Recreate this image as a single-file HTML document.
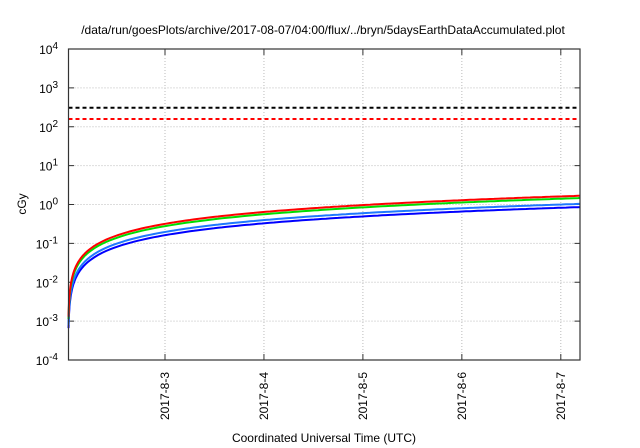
<!DOCTYPE html>
<html><head><meta charset="utf-8"><style>
body{margin:0;background:#fff;}
svg{display:block;font-family:"Liberation Sans",sans-serif;}
</style></head><body>
<svg id="s" width="640" height="448" xmlns="http://www.w3.org/2000/svg">
<rect width="640" height="448" fill="#fff"/>
<text x="323" y="34" font-size="12" text-anchor="middle" fill="#000">/data/run/goesPlots/archive/2017-08-07/04:00/flux/../bryn/5daysEarthDataAccumulated.plot</text>
<g id="grid" stroke="#bbb" stroke-width="1" stroke-dasharray="1,2"></g>
<g id="lab" font-size="12" fill="#000"></g>
<text transform="translate(26,204) rotate(-90)" font-size="12" text-anchor="middle">cGy</text>
<text x="324" y="442" font-size="12" text-anchor="middle">Coordinated Universal Time (UTC)</text>
<line x1="68.5" x2="580" y1="107.7" y2="107.7" stroke="#000" stroke-width="2" stroke-dasharray="4,3"/>
<line x1="68.5" x2="580" y1="119" y2="119" stroke="#f00" stroke-width="2" stroke-dasharray="4,3"/>
<g id="curves" fill="none" stroke-width="2"></g>
<rect x="68.5" y="49" width="511.5" height="311" fill="none" stroke="#333" stroke-width="1.2"/>
</svg>
<script>
(function(){
var ns="http://www.w3.org/2000/svg";
function el(p,n,a,t){var e=document.createElementNS(ns,n);for(var k in a)e.setAttribute(k,a[k]);if(t)e.textContent=t;document.getElementById(p).appendChild(e);return e;}
var ptop=49,dec=38.875;
for(var i=0;i<=8;i++){var y=ptop+i*dec,p=4-i;
 if(i>0&&i<8)el('grid','line',{x1:68.5,x2:580,y1:y,y2:y});
 el('grid','line',{x1:68.5,x2:74,y1:y,y2:y,stroke:'#333','stroke-dasharray':'none'});
 el('grid','line',{x1:574.5,x2:580,y1:y,y2:y,stroke:'#333','stroke-dasharray':'none'});
 var t=el('lab','text',{x:58,y:y+5,'text-anchor':'end'});
 t.textContent="10";var s=document.createElementNS(ns,'tspan');s.setAttribute('dy','-5');s.setAttribute('font-size','10');s.textContent=p;t.appendChild(s);
}
var days=['2017-8-3','2017-8-4','2017-8-5','2017-8-6','2017-8-7'];
for(var d=0;d<5;d++){var x=165+d*98.95;
 el('grid','line',{x1:x,x2:x,y1:49,y2:360});
 el('grid','line',{x1:x,x2:x,y1:354,y2:360,stroke:'#333','stroke-dasharray':'none'});
 el('grid','line',{x1:x,x2:x,y1:49,y2:55,stroke:'#333','stroke-dasharray':'none'});
 el('lab','text',{transform:'translate('+(x+4)+',372) rotate(-90)','text-anchor':'end'},days[d]);
}
var series=[['#0000ff',0.161],['#1e78ff',0.195],['#00dd00',0.275],['#ff0000',0.315]];
series.forEach(function(sr){
 var dpts=[];
 for(var x=68.5;x<=580;x+=(x<90?0.5:4)){var t=(x-68.5)/98.95+0.004;var v=sr[1]*t;
  var y=204-dec*Math.log10(v);if(y>360)y=360;dpts.push(x.toFixed(1)+','+y.toFixed(1));}
 dpts.push('580,'+(204-dec*Math.log10(sr[1]*(511.5/98.95+0.004))).toFixed(1));
 el('curves','polyline',{points:dpts.join(' '),stroke:sr[0]});
});
})();
</script>
</body></html>
